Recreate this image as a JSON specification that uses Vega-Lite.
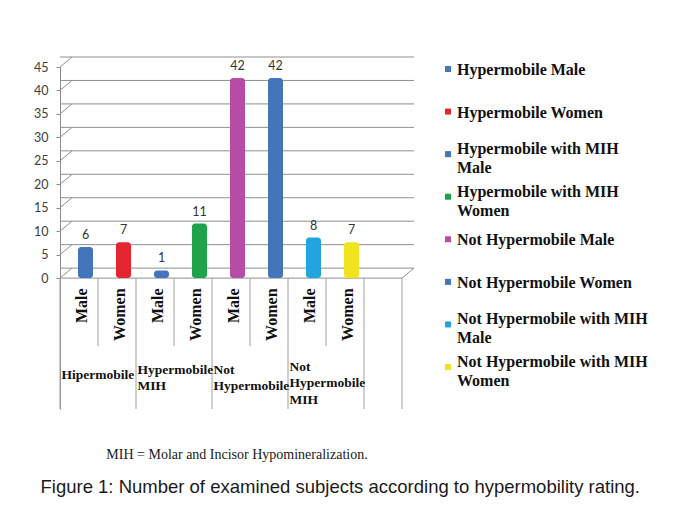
{
  "$schema": "https://vega.github.io/schema/vega-lite/v6.json",
  "padding": {"left": 33, "top": 56, "right": 5, "bottom": 5},
  "background": "white",
  "bounds": "flush",
  "spacing": 46,
  "datasets": {
    "bars": [
      {"series": "Hypermobile Male", "sex": "Male", "n": 6, "groupLabel": ["Hipermobile"], "legendLabel": ["Hypermobile Male"]},
      {"series": "Hypermobile Women", "sex": "Women", "n": 7, "legendLabel": ["Hypermobile Women"]},
      {"series": "Hypermobile with MIH Male", "sex": "Male", "n": 1, "groupLabel": ["Hypermobile", "MIH"], "legendLabel": ["Hypermobile with MIH", "Male"]},
      {"series": "Hypermobile with MIH Women", "sex": "Women", "n": 11, "legendLabel": ["Hypermobile with MIH", "Women"]},
      {"series": "Not Hypermobile Male", "sex": "Male", "n": 42, "groupLabel": ["Not", "Hypermobile"], "legendLabel": ["Not Hypermobile Male"]},
      {"series": "Not Hypermobile Women", "sex": "Women", "n": 42, "legendLabel": ["Not Hypermobile Women"]},
      {"series": "Not Hypermobile with MIH Male", "sex": "Male", "n": 8, "groupLabel": ["Not", "Hypermobile", "MIH"], "legendLabel": ["Not Hypermobile with MIH", "Male"]},
      {"series": "Not Hypermobile with MIH Women", "sex": "Women", "n": 7, "legendLabel": ["Not Hypermobile with MIH", "Women"]}
    ],
    "ticks": [{"v": 0}, {"v": 5}, {"v": 10}, {"v": 15}, {"v": 20}, {"v": 25}, {"v": 30}, {"v": 35}, {"v": 40}, {"v": 45}]
  },
  "title": {
    "text": "Figure 1: Number of examined subjects according to hypermobility rating.",
    "orient": "bottom", "anchor": "start", "font": "Liberation Sans", "fontSize": 18.5,
    "fontWeight": "normal", "color": "#1a1a1a", "offset": 16, "dx": 7
  },
  "hconcat": [
    {
      "width": 342,
      "height": 342,
      "title": {
        "text": "MIH = Molar and Incisor Hypomineralization.",
        "orient": "bottom", "anchor": "middle", "frame": "group", "font": "Liberation Serif",
        "fontSize": 14, "fontWeight": "normal", "color": "#1a1a1a", "offset": 38, "dx": 6
      },
      "layer": [
        {
          "data": {"name": "ticks"},
          "mark": {"type": "rule", "color": "#8f8f8f", "strokeWidth": 1, "xOffset": 12, "yOffset": -10},
          "encoding": {
            "y": {"field": "v", "type": "quantitative", "scale": {"domain": [-27.9, 45], "nice": false, "zero": false},
              "axis": {"values": [0, 5, 10, 15, 20, 25, 30, 35, 40, 45], "title": null, "grid": false,
                "domainColor": "#8c8c8c", "tickColor": "#8c8c8c", "tickSize": 4, "labelFont": "Lato",
                "labelFontSize": 12.5, "labelColor": "#404040", "labelPadding": 8}}
          }
        },
        {
          "data": {"name": "ticks"},
          "mark": {"type": "rule", "color": "#8f8f8f", "strokeWidth": 1, "x2Offset": 12, "y2Offset": -10},
          "encoding": {
            "x": {"datum": "Hypermobile Male", "bandPosition": 0,
              "scale": {"domain": ["Hypermobile Male", "Hypermobile Women", "Hypermobile with MIH Male", "Hypermobile with MIH Women", "Not Hypermobile Male", "Not Hypermobile Women", "Not Hypermobile with MIH Male", "Not Hypermobile with MIH Women", "blank"], "paddingInner": 0, "paddingOuter": 0}, "axis": null},
            "x2": {"datum": "Hypermobile Male", "bandPosition": 0},
            "y": {"field": "v", "type": "quantitative", "scale": {"domain": [-27.9, 45], "nice": false, "zero": false},
              "axis": {"values": [0, 5, 10, 15, 20, 25, 30, 35, 40, 45], "title": null, "grid": false,
                "domainColor": "#8c8c8c", "tickColor": "#8c8c8c", "tickSize": 4, "labelFont": "Lato",
                "labelFontSize": 12.5, "labelColor": "#404040", "labelPadding": 8}},
            "y2": {"field": "v"}
          }
        },
        {
          "data": {"values": [{}]},
          "mark": {"type": "rule", "color": "#8f8f8f", "strokeWidth": 1, "x2Offset": 12, "y2Offset": -10},
          "encoding": {
            "x": {"datum": "blank", "bandPosition": 1,
              "scale": {"domain": ["Hypermobile Male", "Hypermobile Women", "Hypermobile with MIH Male", "Hypermobile with MIH Women", "Not Hypermobile Male", "Not Hypermobile Women", "Not Hypermobile with MIH Male", "Not Hypermobile with MIH Women", "blank"], "paddingInner": 0, "paddingOuter": 0}, "axis": null},
            "x2": {"datum": "blank", "bandPosition": 1},
            "y": {"datum": 0, "type": "quantitative", "scale": {"domain": [-27.9, 45], "nice": false, "zero": false},
              "axis": {"values": [0, 5, 10, 15, 20, 25, 30, 35, 40, 45], "title": null, "grid": false,
                "domainColor": "#8c8c8c", "tickColor": "#8c8c8c", "tickSize": 4, "labelFont": "Lato",
                "labelFontSize": 12.5, "labelColor": "#404040", "labelPadding": 8}},
            "y2": {"datum": 0}
          }
        },
        {
          "data": {"values": [{}]},
          "mark": {"type": "rule", "color": "#8f8f8f", "strokeWidth": 1},
          "encoding": {
            "y": {"datum": 0, "type": "quantitative", "scale": {"domain": [-27.9, 45], "nice": false, "zero": false},
              "axis": {"values": [0, 5, 10, 15, 20, 25, 30, 35, 40, 45], "title": null, "grid": false,
                "domainColor": "#8c8c8c", "tickColor": "#8c8c8c", "tickSize": 4, "labelFont": "Lato",
                "labelFontSize": 12.5, "labelColor": "#404040", "labelPadding": 8}}
          }
        },
        {
          "data": {"name": "bars"},
          "transform": [{"filter": "datum.sex == 'Male'"}],
          "mark": {"type": "rule", "color": "#a0a0a0", "strokeWidth": 1},
          "encoding": {
            "x": {"field": "series", "type": "nominal", "bandPosition": 0, "axis": null,
              "scale": {"domain": ["Hypermobile Male", "Hypermobile Women", "Hypermobile with MIH Male", "Hypermobile with MIH Women", "Not Hypermobile Male", "Not Hypermobile Women", "Not Hypermobile with MIH Male", "Not Hypermobile with MIH Women", "blank"], "paddingInner": 0, "paddingOuter": 0}},
            "y": {"datum": 0, "type": "quantitative", "scale": {"domain": [-27.9, 45], "nice": false, "zero": false},
              "axis": {"values": [0, 5, 10, 15, 20, 25, 30, 35, 40, 45], "title": null, "grid": false,
                "domainColor": "#8c8c8c", "tickColor": "#8c8c8c", "tickSize": 4, "labelFont": "Lato",
                "labelFontSize": 12.5, "labelColor": "#404040", "labelPadding": 8}},
            "y2": {"datum": -27.9}
          }
        },
        {
          "data": {"name": "bars"},
          "transform": [{"filter": "datum.sex == 'Women'"}],
          "mark": {"type": "rule", "color": "#a0a0a0", "strokeWidth": 1},
          "encoding": {
            "x": {"field": "series", "type": "nominal", "bandPosition": 0, "axis": null,
              "scale": {"domain": ["Hypermobile Male", "Hypermobile Women", "Hypermobile with MIH Male", "Hypermobile with MIH Women", "Not Hypermobile Male", "Not Hypermobile Women", "Not Hypermobile with MIH Male", "Not Hypermobile with MIH Women", "blank"], "paddingInner": 0, "paddingOuter": 0}},
            "y": {"datum": 0, "type": "quantitative", "scale": {"domain": [-27.9, 45], "nice": false, "zero": false},
              "axis": {"values": [0, 5, 10, 15, 20, 25, 30, 35, 40, 45], "title": null, "grid": false,
                "domainColor": "#8c8c8c", "tickColor": "#8c8c8c", "tickSize": 4, "labelFont": "Lato",
                "labelFontSize": 12.5, "labelColor": "#404040", "labelPadding": 8}},
            "y2": {"datum": -14.5}
          }
        },
        {
          "data": {"values": [{"series": "blank"}]},
          "mark": {"type": "rule", "color": "#a0a0a0", "strokeWidth": 1},
          "encoding": {
            "x": {"field": "series", "type": "nominal", "bandPosition": 0, "axis": null,
              "scale": {"domain": ["Hypermobile Male", "Hypermobile Women", "Hypermobile with MIH Male", "Hypermobile with MIH Women", "Not Hypermobile Male", "Not Hypermobile Women", "Not Hypermobile with MIH Male", "Not Hypermobile with MIH Women", "blank"], "paddingInner": 0, "paddingOuter": 0}},
            "y": {"datum": 0, "type": "quantitative", "scale": {"domain": [-27.9, 45], "nice": false, "zero": false},
              "axis": {"values": [0, 5, 10, 15, 20, 25, 30, 35, 40, 45], "title": null, "grid": false,
                "domainColor": "#8c8c8c", "tickColor": "#8c8c8c", "tickSize": 4, "labelFont": "Lato",
                "labelFontSize": 12.5, "labelColor": "#404040", "labelPadding": 8}},
            "y2": {"datum": -27.9}
          }
        },
        {
          "data": {"values": [{"series": "blank"}]},
          "mark": {"type": "rule", "color": "#a0a0a0", "strokeWidth": 1},
          "encoding": {
            "x": {"field": "series", "type": "nominal", "bandPosition": 1, "axis": null,
              "scale": {"domain": ["Hypermobile Male", "Hypermobile Women", "Hypermobile with MIH Male", "Hypermobile with MIH Women", "Not Hypermobile Male", "Not Hypermobile Women", "Not Hypermobile with MIH Male", "Not Hypermobile with MIH Women", "blank"], "paddingInner": 0, "paddingOuter": 0}},
            "y": {"datum": 0, "type": "quantitative", "scale": {"domain": [-27.9, 45], "nice": false, "zero": false},
              "axis": {"values": [0, 5, 10, 15, 20, 25, 30, 35, 40, 45], "title": null, "grid": false,
                "domainColor": "#8c8c8c", "tickColor": "#8c8c8c", "tickSize": 4, "labelFont": "Lato",
                "labelFontSize": 12.5, "labelColor": "#404040", "labelPadding": 8}},
            "y2": {"datum": -27.9}
          }
        },
        {
          "data": {"name": "bars"},
          "mark": {"type": "bar", "size": 15, "xOffset": 6.5, "yOffset": -3, "cornerRadius": 3},
          "encoding": {
            "x": {"field": "series", "type": "nominal", "axis": null,
              "scale": {"domain": ["Hypermobile Male", "Hypermobile Women", "Hypermobile with MIH Male", "Hypermobile with MIH Women", "Not Hypermobile Male", "Not Hypermobile Women", "Not Hypermobile with MIH Male", "Not Hypermobile with MIH Women", "blank"], "paddingInner": 0, "paddingOuter": 0}},
            "y": {"field": "n", "type": "quantitative", "scale": {"domain": [-27.9, 45], "nice": false, "zero": false},
              "axis": {"values": [0, 5, 10, 15, 20, 25, 30, 35, 40, 45], "title": null, "grid": false,
                "domainColor": "#8c8c8c", "tickColor": "#8c8c8c", "tickSize": 4, "labelFont": "Lato",
                "labelFontSize": 12.5, "labelColor": "#404040", "labelPadding": 8}},
            "y2": {"datum": 0},
            "color": {"field": "series", "type": "nominal", "legend": null,
              "scale": {"domain": ["Hypermobile Male", "Hypermobile Women", "Hypermobile with MIH Male", "Hypermobile with MIH Women", "Not Hypermobile Male", "Not Hypermobile Women", "Not Hypermobile with MIH Male", "Not Hypermobile with MIH Women"],
                "range": ["#4275b9", "#e52630", "#4275b9", "#1ea34a", "#b64ca5", "#4275b9", "#22a4de", "#f1e41f"]}}
          }
        },
        {
          "data": {"name": "bars"},
          "mark": {"type": "text", "baseline": "bottom", "dy": -8, "xOffset": 6.5, "font": "Lato", "fontSize": 12.5, "color": "#333333"},
          "encoding": {
            "x": {"field": "series", "type": "nominal", "axis": null,
              "scale": {"domain": ["Hypermobile Male", "Hypermobile Women", "Hypermobile with MIH Male", "Hypermobile with MIH Women", "Not Hypermobile Male", "Not Hypermobile Women", "Not Hypermobile with MIH Male", "Not Hypermobile with MIH Women", "blank"], "paddingInner": 0, "paddingOuter": 0}},
            "y": {"field": "n", "type": "quantitative", "scale": {"domain": [-27.9, 45], "nice": false, "zero": false},
              "axis": {"values": [0, 5, 10, 15, 20, 25, 30, 35, 40, 45], "title": null, "grid": false,
                "domainColor": "#8c8c8c", "tickColor": "#8c8c8c", "tickSize": 4, "labelFont": "Lato",
                "labelFontSize": 12.5, "labelColor": "#404040", "labelPadding": 8}},
            "text": {"field": "n", "type": "quantitative"}
          }
        },
        {
          "data": {"name": "bars"},
          "mark": {"type": "text", "angle": 270, "align": "right", "baseline": "middle", "xOffset": 3, "font": "Liberation Serif", "fontWeight": "bold", "fontSize": 16, "color": "#111111"},
          "encoding": {
            "x": {"field": "series", "type": "nominal", "axis": null,
              "scale": {"domain": ["Hypermobile Male", "Hypermobile Women", "Hypermobile with MIH Male", "Hypermobile with MIH Women", "Not Hypermobile Male", "Not Hypermobile Women", "Not Hypermobile with MIH Male", "Not Hypermobile with MIH Women", "blank"], "paddingInner": 0, "paddingOuter": 0}},
            "y": {"datum": -2.2, "type": "quantitative", "scale": {"domain": [-27.9, 45], "nice": false, "zero": false},
              "axis": {"values": [0, 5, 10, 15, 20, 25, 30, 35, 40, 45], "title": null, "grid": false,
                "domainColor": "#8c8c8c", "tickColor": "#8c8c8c", "tickSize": 4, "labelFont": "Lato",
                "labelFontSize": 12.5, "labelColor": "#404040", "labelPadding": 8}},
            "text": {"field": "sex", "type": "nominal"}
          }
        },
        {
          "data": {"name": "bars"},
          "transform": [{"filter": "datum.sex == 'Male' && length(datum.groupLabel) == 1"}],
          "mark": {"type": "text", "align": "left", "baseline": "middle", "xOffset": 1.5, "font": "Liberation Serif", "fontWeight": "bold", "fontSize": 13.5, "lineHeight": 16.5, "color": "#111111"},
          "encoding": {
            "x": {"field": "series", "type": "nominal", "bandPosition": 0, "axis": null,
              "scale": {"domain": ["Hypermobile Male", "Hypermobile Women", "Hypermobile with MIH Male", "Hypermobile with MIH Women", "Not Hypermobile Male", "Not Hypermobile Women", "Not Hypermobile with MIH Male", "Not Hypermobile with MIH Women", "blank"], "paddingInner": 0, "paddingOuter": 0}},
            "y": {"datum": -20.6, "type": "quantitative", "scale": {"domain": [-27.9, 45], "nice": false, "zero": false},
              "axis": {"values": [0, 5, 10, 15, 20, 25, 30, 35, 40, 45], "title": null, "grid": false,
                "domainColor": "#8c8c8c", "tickColor": "#8c8c8c", "tickSize": 4, "labelFont": "Lato",
                "labelFontSize": 12.5, "labelColor": "#404040", "labelPadding": 8}},
            "text": {"field": "groupLabel", "type": "nominal"}
          }
        },
        {
          "data": {"name": "bars"},
          "transform": [{"filter": "datum.sex == 'Male' && length(datum.groupLabel) == 2"}],
          "mark": {"type": "text", "align": "left", "baseline": "middle", "xOffset": 1.5, "font": "Liberation Serif", "fontWeight": "bold", "fontSize": 13.5, "lineHeight": 16.5, "color": "#111111"},
          "encoding": {
            "x": {"field": "series", "type": "nominal", "bandPosition": 0, "axis": null,
              "scale": {"domain": ["Hypermobile Male", "Hypermobile Women", "Hypermobile with MIH Male", "Hypermobile with MIH Women", "Not Hypermobile Male", "Not Hypermobile Women", "Not Hypermobile with MIH Male", "Not Hypermobile with MIH Women", "blank"], "paddingInner": 0, "paddingOuter": 0}},
            "y": {"datum": -19.5, "type": "quantitative", "scale": {"domain": [-27.9, 45], "nice": false, "zero": false},
              "axis": {"values": [0, 5, 10, 15, 20, 25, 30, 35, 40, 45], "title": null, "grid": false,
                "domainColor": "#8c8c8c", "tickColor": "#8c8c8c", "tickSize": 4, "labelFont": "Lato",
                "labelFontSize": 12.5, "labelColor": "#404040", "labelPadding": 8}},
            "text": {"field": "groupLabel", "type": "nominal"}
          }
        },
        {
          "data": {"name": "bars"},
          "transform": [{"filter": "datum.sex == 'Male' && length(datum.groupLabel) == 3"}],
          "mark": {"type": "text", "align": "left", "baseline": "middle", "xOffset": 1.5, "font": "Liberation Serif", "fontWeight": "bold", "fontSize": 13.5, "lineHeight": 16.5, "color": "#111111"},
          "encoding": {
            "x": {"field": "series", "type": "nominal", "bandPosition": 0, "axis": null,
              "scale": {"domain": ["Hypermobile Male", "Hypermobile Women", "Hypermobile with MIH Male", "Hypermobile with MIH Women", "Not Hypermobile Male", "Not Hypermobile Women", "Not Hypermobile with MIH Male", "Not Hypermobile with MIH Women", "blank"], "paddingInner": 0, "paddingOuter": 0}},
            "y": {"datum": -18.9, "type": "quantitative", "scale": {"domain": [-27.9, 45], "nice": false, "zero": false},
              "axis": {"values": [0, 5, 10, 15, 20, 25, 30, 35, 40, 45], "title": null, "grid": false,
                "domainColor": "#8c8c8c", "tickColor": "#8c8c8c", "tickSize": 4, "labelFont": "Lato",
                "labelFontSize": 12.5, "labelColor": "#404040", "labelPadding": 8}},
            "text": {"field": "groupLabel", "type": "nominal"}
          }
        }
      ]
    },
    {
      "width": 200,
      "height": 302,
      "data": {"name": "bars"},
      "encoding": {
        "y": {"field": "series", "type": "nominal", "axis": null,
          "scale": {"type": "point", "padding": 0.047, "domain": ["Hypermobile Male", "Hypermobile Women", "Hypermobile with MIH Male", "Hypermobile with MIH Women", "Not Hypermobile Male", "Not Hypermobile Women", "Not Hypermobile with MIH Male", "Not Hypermobile with MIH Women"]}},
        "x": {"datum": 0, "type": "quantitative", "scale": {"domain": [0, 1], "nice": false}, "axis": null}
      },
      "layer": [
        {
          "mark": {"type": "point", "shape": "square", "filled": true, "size": 36, "opacity": 1},
          "encoding": {
            "color": {"field": "series", "type": "nominal", "legend": null,
              "scale": {"domain": ["Hypermobile Male", "Hypermobile Women", "Hypermobile with MIH Male", "Hypermobile with MIH Women", "Not Hypermobile Male", "Not Hypermobile Women", "Not Hypermobile with MIH Male", "Not Hypermobile with MIH Women"],
                "range": ["#4a7ebe", "#e52630", "#4a7ebe", "#1ea34a", "#b64ca5", "#4a7ebe", "#22a4de", "#f1e41f"]}}
          }
        },
        {
          "transform": [{"filter": "length(datum.legendLabel) == 1"}],
          "mark": {"type": "text", "align": "left", "baseline": "middle", "dx": 9, "dy": 1, "font": "Liberation Serif", "fontWeight": "bold", "fontSize": 16, "lineHeight": 19, "color": "#111111"},
          "encoding": {
            "text": {"field": "legendLabel", "type": "nominal"}
          }
        },
        {
          "transform": [{"filter": "length(datum.legendLabel) == 2"}],
          "mark": {"type": "text", "align": "left", "baseline": "middle", "dx": 9, "dy": -5, "font": "Liberation Serif", "fontWeight": "bold", "fontSize": 16, "lineHeight": 19, "color": "#111111"},
          "encoding": {
            "text": {"field": "legendLabel", "type": "nominal"}
          }
        }
      ]
    }
  ],
  "config": {"view": {"stroke": null}}
}
